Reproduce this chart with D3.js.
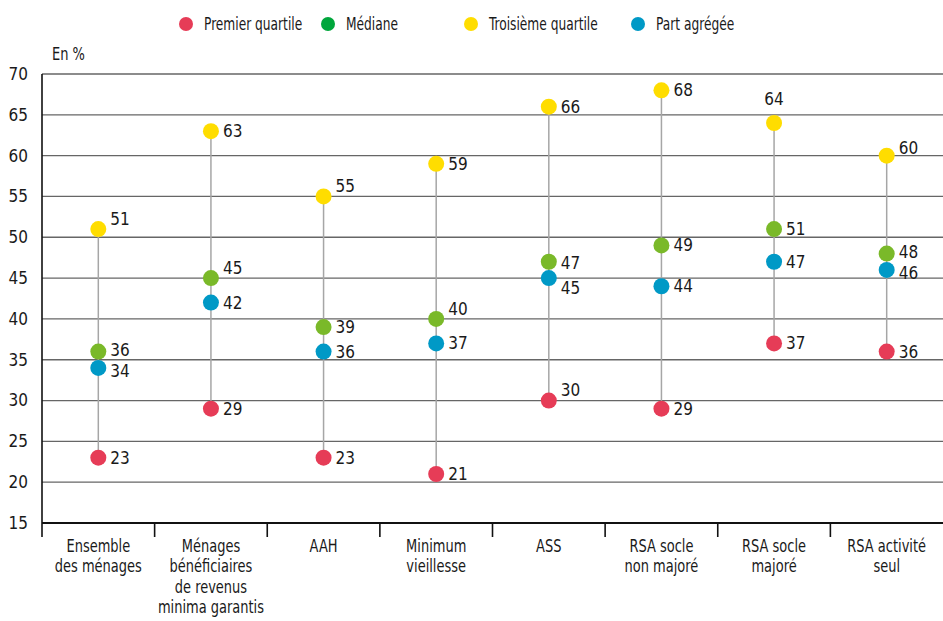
<!DOCTYPE html>
<html>
<head>
<meta charset="utf-8">
<script src="https://cdn.jsdelivr.net/npm/d3@7/dist/d3.min.js"></script>
<style>
  html, body { margin: 0; padding: 0; background: #fff; }
  svg { display: block; }
  text { font-family: "Liberation Sans Narrow", "DejaVu Sans Condensed", "Arial Narrow", sans-serif; fill: #1a1a1a; }
</style>
</head>
<body>
<svg id="chart" width="943" height="621"></svg>
<script>
// ---- Data ----
const categories = [
  ["Ensemble", "des ménages"],
  ["Ménages", "bénéficiaires", "de revenus", "minima garantis"],
  ["AAH"],
  ["Minimum", "vieillesse"],
  ["ASS"],
  ["RSA socle", "non majoré"],
  ["RSA socle", "majoré"],
  ["RSA activité", "seul"]
];
const premierQuartile   = [23, 29, 23, 21, 30, 29, 37, 36];
const mediane           = [36, 45, 39, 40, 47, 49, 51, 48];
const troisiemeQuartile = [51, 63, 55, 59, 66, 68, 64, 60];
const partAgregee       = [34, 42, 36, 37, 45, 44, 47, 46];
const seriesNames = ["Premier quartile", "Médiane", "Troisième quartile", "Part agrégée"];
const yTicks = [15, 20, 25, 30, 35, 40, 45, 50, 55, 60, 65, 70];

// ---- Styles ----
const dotColors = ["#e63c57", "#7ab929", "#ffdd00", "#0099c6"];
const legendColors = ["#e63c57", "#00a63c", "#ffdd00", "#0099c6"];
// label nudges keyed "category,series": [dx, dy, anchor]
const nudges = {
  "0,2": [12, -10], "0,1": [12, -2], "0,3": [12, 3],
  "1,1": [12, -10],
  "2,2": [12, -10],
  "3,1": [12, -10],
  "4,1": [12, 1], "4,3": [12, 10], "4,0": [12, -10],
  "6,2": [0, -24, "middle"],
  "7,2": [12, -8], "7,1": [12, -2], "7,3": [12, 3]
};
const defaultNudge = [12, 0, "start"];

const svg = d3.select("#chart");
const margin = { left: 42, right: 943, top: 74, bottom: 523 };

const x = d3.scaleBand().domain(d3.range(categories.length)).range([margin.left, margin.right]).padding(0);
const y = d3.scaleLinear().domain([15, 70]).range([margin.bottom, margin.top]);
const cx = i => x(i) + x.bandwidth() / 2;

// gridlines
svg.append("g").selectAll("line").data(yTicks.filter(t => t > 15)).join("line")
  .attr("x1", margin.left).attr("x2", margin.right)
  .attr("y1", d => y(d)).attr("y2", d => y(d))
  .attr("stroke", "#666").attr("stroke-width", 1.3);

// y tick labels
svg.append("g").selectAll("text").data(yTicks).join("text")
  .attr("x", 28).attr("y", d => y(d)).attr("dy", "0.35em")
  .attr("text-anchor", "end").attr("font-size", 17).text(d => d);

svg.append("text").attr("transform", "translate(52,60) scale(0.85,1)")
  .attr("font-size", 17).text("En %");

// axes lines
svg.append("line").attr("x1", margin.left).attr("x2", margin.left)
  .attr("y1", margin.top).attr("y2", margin.bottom + 14)
  .attr("stroke", "#111").attr("stroke-width", 1.6);
svg.append("line").attr("x1", margin.left).attr("x2", margin.right)
  .attr("y1", margin.bottom).attr("y2", margin.bottom)
  .attr("stroke", "#111").attr("stroke-width", 1.8);
svg.append("g").selectAll("line").data(d3.range(1, categories.length)).join("line")
  .attr("x1", d => x(d)).attr("x2", d => x(d))
  .attr("y1", margin.bottom).attr("y2", margin.bottom + 14)
  .attr("stroke", "#111").attr("stroke-width", 1.6);

// category labels
const catG = svg.append("g").selectAll("text").data(categories).join("text")
  .attr("text-anchor", "middle").attr("font-size", 17)
  .attr("transform", (d, i) => `translate(${cx(i)},${margin.bottom + 29}) scale(0.85,1)`);
catG.selectAll("tspan").data(d => d).join("tspan")
  .attr("x", 0).attr("dy", (d, j) => j === 0 ? 0 : 20.5).text(d => d);

// connectors
const allSeries = [premierQuartile, mediane, troisiemeQuartile, partAgregee];
svg.append("g").selectAll("line").data(d3.range(categories.length)).join("line")
  .attr("x1", cx).attr("x2", cx)
  .attr("y1", i => y(d3.min(allSeries, s => s[i])))
  .attr("y2", i => y(d3.max(allSeries, s => s[i])))
  .attr("stroke", "#a6a6a6").attr("stroke-width", 1.5);

// dots & labels
const drawOrder = [2, 1, 3, 0];
drawOrder.forEach(si => {
  const s = allSeries[si];
  const nd = i => { const n = nudges[i + "," + si] || defaultNudge; return [n[0], n[1], n[2] || "start"]; };
  const g = svg.append("g");
  g.selectAll("circle").data(s).join("circle")
    .attr("cx", (d, i) => cx(i)).attr("cy", d => y(d))
    .attr("r", 8).attr("fill", dotColors[si]);
  g.selectAll("text").data(s).join("text")
    .attr("x", (d, i) => cx(i) + nd(i)[0])
    .attr("y", (d, i) => y(d) + nd(i)[1])
    .attr("dy", "0.35em")
    .attr("text-anchor", (d, i) => nd(i)[2])
    .attr("font-size", 17).text(d => d);
});

// legend
const legendX = [186, 328, 471, 638];
const lg = svg.append("g").selectAll("g").data(seriesNames).join("g")
  .attr("transform", (d, i) => `translate(${legendX[i]},24)`);
lg.append("circle").attr("r", 7).attr("fill", (d, i) => legendColors[i]);
lg.append("text").attr("transform", "translate(18,0) scale(0.8,1)")
  .attr("dy", "0.35em").attr("font-size", 17).text(d => d);
</script>
</body>
</html>
